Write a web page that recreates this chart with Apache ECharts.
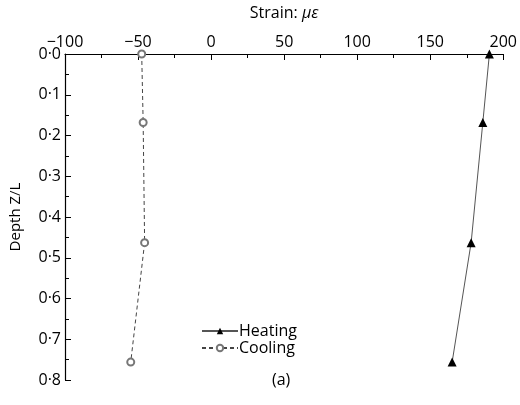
<!DOCTYPE html><html><head><meta charset="utf-8"><script src="https://cdn.jsdelivr.net/npm/echarts@6/dist/echarts.min.js"></script></head><body style="margin:0"><div id="c" style="width:520px;height:405px"></div><script>
const depth=[0,0.168,0.463,0.756];
const heating=[190.5,186,178,165];
const cooling=[-47.5,-46.5,-45.5,-55];
const F='Open Sans';
const c=echarts.init(document.getElementById('c'));
const ax={onZero:false,lineStyle:{color:'#000',width:1.2}};
c.setOption({animation:false,
grid:{left:58,top:52,width:447,height:328},
xAxis:{type:'value',position:'top',min:-100,max:200,interval:50,name:'{a|Strain: }{b|με}',nameLocation:'middle',nameGap:33,nameTextStyle:{rich:{a:{fontFamily:F,fontSize:16,color:'#000'},b:{fontFamily:F,fontSize:16,fontStyle:'italic',color:'#000'}}},
axisLine:ax,axisTick:{inside:true,length:6,lineStyle:{color:'#000'}},minorTick:{show:true,splitNumber:2,length:4,lineStyle:{color:'#000'}},
axisLabel:{fontFamily:F,fontSize:16,color:'#000',margin:4,formatter:v=>v<0?'−'+(-v):''+v},splitLine:{show:false}},
yAxis:{type:'value',inverse:true,min:0,max:0.8,interval:0.1,name:'Depth Z/L',nameLocation:'middle',nameGap:42,nameTextStyle:{fontFamily:F,fontSize:15,color:'#000'},
axisLine:ax,axisTick:{inside:true,length:6,lineStyle:{color:'#000'}},minorTick:{show:true,splitNumber:2,length:4,lineStyle:{color:'#000'}},
axisLabel:{fontFamily:F,fontSize:16,color:'#000',margin:4,formatter:v=>v.toFixed(1).replace('.','·')},splitLine:{show:false}},
legend:{left:196,top:318,orient:'vertical',itemGap:1,itemWidth:36,itemHeight:8,textStyle:{fontFamily:F,fontSize:16,color:'#000',padding:[0,0,0,-4]},data:['Heating','Cooling']},
graphic:[{type:'text',left:272,top:372,style:{text:'(a)',font:'16px "Open Sans"',fill:'#000'}}],
series:[
{name:'Heating',type:'line',data:heating.map((v,i)=>[v,depth[i]]),symbol:'triangle',symbolSize:9,itemStyle:{color:'#000'},lineStyle:{color:'#555',width:1}},
{name:'Cooling',type:'line',data:cooling.map((v,i)=>[v,depth[i]]),symbol:'emptyCircle',symbolSize:7,itemStyle:{color:'#777',borderColor:'#777',borderWidth:0.8},lineStyle:{color:'#444',width:1,type:[4,3]}}
]});
</script></body></html>
